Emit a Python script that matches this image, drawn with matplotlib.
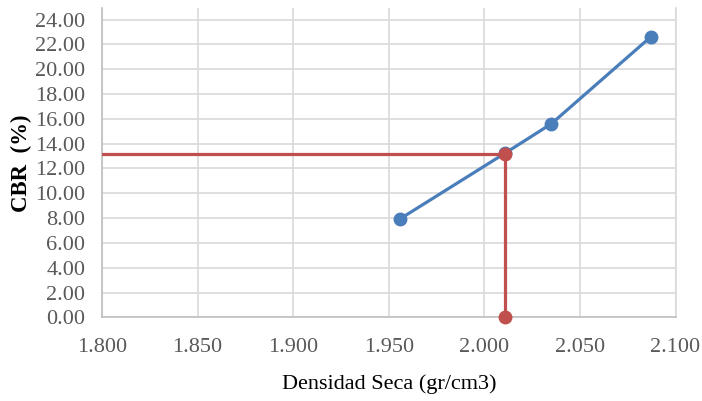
import matplotlib
matplotlib.use("Agg")
import matplotlib.pyplot as plt
from matplotlib.ticker import FixedLocator, FormatStrFormatter

# CBR vs dry density test points
densidad = [1.956, 2.011, 2.035, 2.087]
cbr = [7.95, 13.25, 15.6, 22.6]

# Design value
densidad_diseno = 2.011
cbr_diseno = 13.2
x_min, x_max = 1.800, 2.100

x_ticks = [1.800, 1.850, 1.900, 1.950, 2.000, 2.050, 2.100]
y_ticks = [0, 2, 4, 6, 8, 10, 12, 14, 16, 18, 20, 22, 24]

blue = "#4A7EBB"
red = "#C0504D"
grid = "#D9D9D9"

plt.rcParams["font.family"] = ["Liberation Serif", "DejaVu Serif"]

fig = plt.figure(figsize=(7.02, 4.01), dpi=100)
ax = fig.add_axes([0.1453, 0.2085, 0.8170, 0.7705])

# measured curve
ax.plot(densidad, cbr, color=blue, lw=2.3, marker="o", ms=9,
        solid_capstyle="round", zorder=3)

# horizontal guide from the axis to the curve
ax.plot([x_min, densidad_diseno], [cbr_diseno, cbr_diseno], color=red,
        lw=2.3, zorder=4)
# vertical guide down to the x axis
ax.plot([densidad_diseno, densidad_diseno], [cbr_diseno, 0], color=red,
        lw=2.3, marker="o", ms=9, zorder=4, clip_on=False)

ax.set_xlim(x_min, x_max)
ax.set_ylim(0, 24.9)
ax.xaxis.set_major_locator(FixedLocator(x_ticks))
ax.yaxis.set_major_locator(FixedLocator(y_ticks))
ax.xaxis.set_major_formatter(FormatStrFormatter("%.3f"))
ax.yaxis.set_major_formatter(FormatStrFormatter("%.2f"))

ax.grid(True, color=grid, lw=1.2, zorder=0)
ax.set_axisbelow(True)

ax.spines["top"].set_visible(False)
for side in ["left", "bottom"]:
    ax.spines[side].set_color("#BFBFBF")
    ax.spines[side].set_linewidth(1.2)
ax.spines["right"].set_color(grid)
ax.spines["right"].set_linewidth(1.2)

ax.tick_params(axis="both", length=0, colors="#595959", labelsize=16)
ax.tick_params(axis="x", pad=15)
ax.tick_params(axis="y", pad=12)

ax.set_xlabel("Densidad Seca (gr/cm3)", fontsize=16, color="black",
              labelpad=12)
ax.set_ylabel("CBR  (%)", fontsize=16.5, fontweight="bold", color="black",
              labelpad=2)

fig.savefig("out.png", dpi=100)
